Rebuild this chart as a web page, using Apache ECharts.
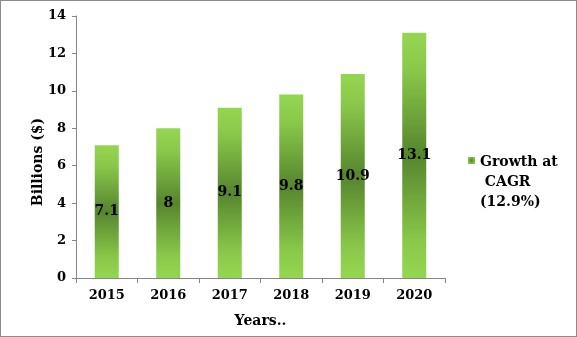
<!DOCTYPE html>
<html>
<head>
<meta charset="utf-8">
<script src="https://cdn.jsdelivr.net/npm/echarts@6/dist/echarts.min.js"></script>
<style>
  html, body { margin: 0; padding: 0; background: #fff; }
  #frame { position: absolute; left: 0; top: 0; width: 575px; height: 335px; border: 1px solid #8c8c8c; box-sizing: content-box; }
  #chart { width: 575px; height: 335px; }
</style>
</head>
<body>
<div id="frame"><div id="chart"></div></div>
<script>
// Market size by year, billions of dollars
const years = ['2015', '2016', '2017', '2018', '2019', '2020'];
const values = [7.1, 8, 9.1, 9.8, 10.9, 13.1];
const yTicks = [0, 2, 4, 6, 8, 10, 12, 14];
const legendText = 'Growth at\n CAGR\n(12.9%)';

const font = '"DejaVu Serif", "Liberation Serif", serif';

// light green at the ends of each bar, dark olive green through the middle
const barFill = new echarts.graphic.LinearGradient(0, 0, 0, 1, [
  { offset: 0, color: '#94d650' },
  { offset: 0.15, color: '#8ac84a' },
  { offset: 0.5, color: '#56852e' },
  { offset: 0.85, color: '#8ac84a' },
  { offset: 1, color: '#94d650' }
]);
const swatchFill = new echarts.graphic.RadialGradient(0.5, 0.5, 0.7, [
  { offset: 0, color: '#56852e' },
  { offset: 1, color: '#94d650' }
]);

const chart = echarts.init(document.getElementById('chart'), null, { renderer: 'canvas' });
chart.setOption({
  animation: false,
  grid: { left: 75, right: 131, top: 15, bottom: 58 },
  xAxis: {
    type: 'category',
    data: years,
    name: 'Years..',
    nameLocation: 'middle',
    nameGap: 36,
    nameTextStyle: { fontFamily: font, fontWeight: 'bold', fontSize: 14, color: '#000' },
    axisLine: { lineStyle: { color: '#868686' } },
    axisTick: { show: true, length: 5, lineStyle: { color: '#868686' } },
    axisLabel: { fontFamily: font, fontWeight: 'bold', fontSize: 13, color: '#000', margin: 11 }
  },
  yAxis: {
    type: 'value',
    min: yTicks[0],
    max: yTicks[yTicks.length - 1],
    interval: yTicks[1] - yTicks[0],
    name: 'Billions ($)',
    nameLocation: 'middle',
    nameGap: 31,
    nameMoveOverlap: false,
    nameRotate: 90,
    nameTextStyle: { fontFamily: font, fontWeight: 'bold', fontSize: 14, color: '#000', padding: [0, 30, 0, 0] },
    splitLine: { show: false },
    axisLine: { show: true, lineStyle: { color: '#868686' } },
    axisTick: { show: true, length: 4, lineStyle: { color: '#868686' } },
    axisLabel: { fontFamily: font, fontWeight: 'bold', fontSize: 13, color: '#000', margin: 10 }
  },
  series: [{
    type: 'bar',
    name: 'Growth at CAGR (12.9%)',
    data: values,
    barWidth: 24,
    itemStyle: { color: barFill },
    label: {
      show: true,
      position: 'inside',
      fontFamily: font,
      fontWeight: 'bold',
      fontSize: 14,
      color: '#000'
    }
  }],
  graphic: [
    {
      type: 'rect',
      left: 467,
      top: 156,
      shape: { width: 7, height: 7 },
      style: { fill: swatchFill }
    },
    {
      type: 'text',
      left: 479,
      top: 151,
      style: {
        text: legendText,
        font: 'bold 14px ' + font,
        fill: '#000',
        lineHeight: 20
      }
    }
  ]
});
</script>
</body>
</html>
